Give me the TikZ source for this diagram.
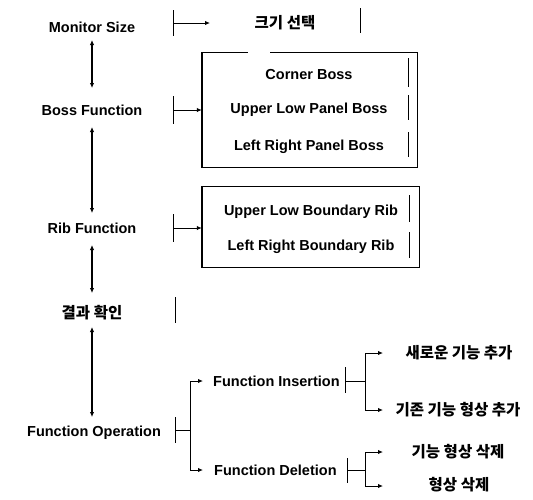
\documentclass[tikz,border=0pt]{standalone}
\usepackage{fontspec}
\setmainfont{Liberation Sans}
\newfontfamily\krfont{Noto Sans CJK KR}
\usetikzlibrary{arrows.meta}
\begin{document}
\begin{tikzpicture}[x=1pt,y=-1pt,
  lbl/.style={inner sep=0pt, font=\fontsize{14.5}{17}\selectfont\bfseries},
  klbl/.style={inner sep=0pt, font=\krfont\fontsize{15.5}{18}\selectfont\bfseries},
  boxline/.style={line width=1.4pt},
  brk/.style={line width=1pt},
  arr/.style={line width=1pt,-{Latex[length=5pt,width=4.5pt]}},
  dbl/.style={line width=1.6pt,{Latex[length=5pt,width=4.5pt]}-{Latex[length=5pt,width=4.5pt]}}]
\useasboundingbox (0,0) rectangle (533,499);
\fill[white] (0,0) rectangle (533,499);

% left column
\node[lbl] (ms) at (92,27) {Monitor Size};
\node[lbl] (bf) at (92,110) {Boss Function};
\node[lbl] (rf) at (92,228) {Rib Function};
\node[klbl] (gh) at (92,313) {결과 확인};
\node[lbl] (fo) at (94,433) {Function Operation};

% double arrows
\draw[dbl, shorten <=13pt, shorten >=22pt] (ms.center) -- (bf.center);
\draw[dbl, shorten <=17pt, shorten >=15pt] (bf.center) -- (rf.center);
\draw[dbl, shorten <=17pt, shorten >=20pt] (rf.center) -- (gh.center);
\draw[dbl, shorten <=14pt, shorten >=16pt] (gh.center) -- (gh.center |- fo.center);

% Monitor size row
\node[klbl] (ks) at (285,23) {크기 선택};
\coordinate (msb) at (173,23);
\coordinate (mst) at (210,23);
\draw[brk] (msb) ++(0,-13) -- ++(0,26);
\draw[arr] (msb) -- (mst);
\draw[brk] (360,8) -- (360,33);

% Boss box
\node[minimum width=215pt, minimum height=115pt, inner sep=0pt] (b1) at (309.5,110) {};
\draw[boxline] ([xshift=46pt]b1.north west) -- (b1.north west) -- (b1.south west)
  -- (b1.south east) -- (b1.north east) -- ([xshift=68pt]b1.north west);
\node[lbl] (cb) at (309,75) {Corner Boss};
\node[lbl] (ulpb) at (309,110) {Upper Low Panel Boss};
\node[lbl] (lrpb) at (309,147) {Left Right Panel Boss};
\draw[brk] (408,58) -- (408,87);
\draw[brk] (408,95) -- (408,120);
\draw[brk] (408,132) -- (408,157);
\coordinate (bfb) at (173,110);
\draw[brk] (bfb) ++(0,-14) -- ++(0,28);
\draw[arr] (bfb) -- (bfb -| b1.west);

% Rib box
\node[minimum width=217pt, minimum height=81pt, inner sep=0pt] (b2) at (310.5,227) {};
\draw[boxline] (b2.north west) rectangle (b2.south east);
\node[lbl] (ulbr) at (311,212) {Upper Low Boundary Rib};
\node[lbl] (lrbr) at (311,247) {Left Right Boundary Rib};
\draw[brk] (409,195) -- (409,222);
\draw[brk] (409,232) -- (409,258);
\coordinate (rfb) at (173,228);
\draw[brk] (rfb) ++(0,-14) -- ++(0,28);
\draw[arr] (rfb) -- (rfb -| b2.west);

% result check bracket
\draw[brk] (175,297) -- (175,323);

% Function operation tree
\coordinate (fob) at (175,430);
\draw[brk] (fob) ++(0,-13) -- ++(0,26);
\draw[brk] (fob) -- ++(15,0) coordinate (foj);
\node[lbl, anchor=west] (fi) at (213,381) {Function Insertion};
\node[lbl, anchor=west] (fd) at (214,470) {Function Deletion};
\draw[arr, shorten >=10pt] (foj) |- (fi.west);
\draw[arr, shorten >=11pt] (foj) |- (fd.west);

\node[klbl] (k1) at (459,353) {새로운 기능 추가};
\node[klbl] (k2) at (458,410) {기존 기능 형상 추가};
\node[klbl] (k3) at (458,452) {기능 형상 삭제};
\node[klbl] (k4) at (459,485) {형상 삭제};

\coordinate (fib) at (345,381);
\draw[brk] (fib) ++(0,-14) -- ++(0,26);
\draw[brk] (fib) -- ++(20,0) coordinate (fij);
\coordinate (t1) at (383,353);
\coordinate (t2) at (383,410);
\draw[arr] (fij) |- (t1);
\draw[arr] (fij) |- (t2);

\coordinate (fdb) at (347,470);
\draw[brk] (fdb) ++(0,-12) -- ++(0,25);
\draw[brk] (fdb) -- ++(18,0) coordinate (fdj);
\coordinate (t3) at (383,452);
\coordinate (t4) at (383,486);
\draw[arr] (fdj) |- (t3);
\draw[arr] (fdj) |- (t4);
\end{tikzpicture}
\end{document}
